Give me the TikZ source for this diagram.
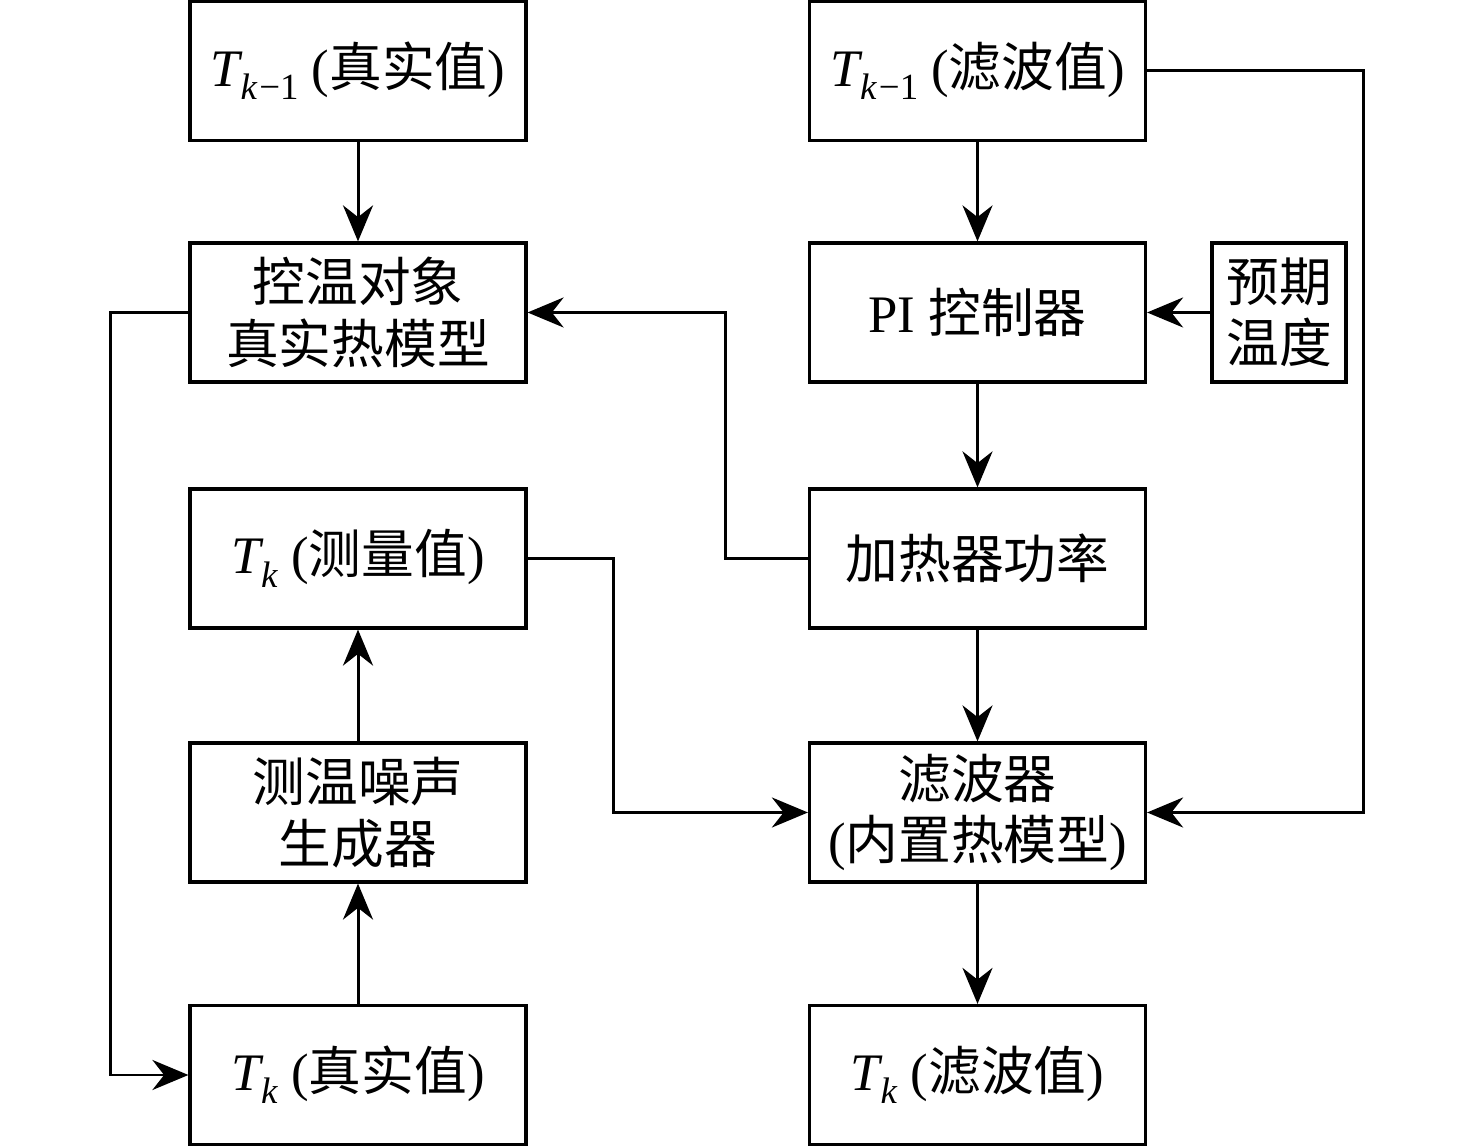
\documentclass[tikz,border=0pt]{standalone}
\usepackage{fontspec}
\setmainfont{Liberation Serif}
\newfontfamily\cjk{Noto Sans CJK SC}
\usepackage{tikz}
\usetikzlibrary{arrows.meta, positioning, calc}

% temperature symbol with lowered subscript
\newcommand{\tsym}[1]{\textit{T}\kern-0.05em\raisebox{-0.55ex}{\fontsize{10.5}{12}\selectfont #1}}

\tikzset{
    blockbox/.style={draw, line width=0.9pt, minimum width=3.36cm, minimum height=1.39cm, align=center, inner sep=0pt, font=\fontsize{15}{17.5}\selectfont},
    flow/.style={line width=0.85pt, -{Stealth[length=3.6mm, width=3mm]}}
}

\begin{document}
\begin{tikzpicture}
    \useasboundingbox (0,0) rectangle (14.76,11.47);

    % Real plant side
    \node[blockbox] (tprevreal) at (3.58,10.76) {\tsym{\textit{k}\kern0.05em−1} ({\cjk 真实值})};
    \node[blockbox] (plant) at (3.58,8.345) {{\cjk 控温对象}\\{\cjk 真实热模型}};
    \node[blockbox] (tkmeas) at (3.58,5.885) {\tsym{\textit{k}} ({\cjk 测量值})};
    \node[blockbox] (noise) at (3.58,3.345) {{\cjk 测温噪声}\\{\cjk 生成器}};
    \node[blockbox] (tkreal) at (3.58,0.72) {\tsym{\textit{k}} ({\cjk 真实值})};

    % Filter side
    \node[blockbox] (tprevfilt) at (9.775,10.76) {\tsym{\textit{k}\kern0.05em−1} ({\cjk 滤波值})};
    \node[blockbox] (pi) at (9.775,8.345) {PI {\cjk 控制器}};
    \node[blockbox] (heater) at (9.775,5.885) {\cjk 加热器功率};
    \node[blockbox] (filter) at (9.775,3.345) {{\cjk 滤波器}\\({\cjk 内置热模型})};
    \node[blockbox] (tkfilt) at (9.775,0.72) {\tsym{\textit{k}} ({\cjk 滤波值})};
    \node[blockbox, minimum width=1.34cm] (expect) at (12.79,8.345) {{\cjk 预期}\\{\cjk 温度}};

    % Connections
    \draw[flow] (tprevreal) -- (plant);
    \draw[flow] (plant.west) -- ++(-0.78,0) |- (tkreal.west);
    \draw[flow] (tkreal) -- (noise);
    \draw[flow] (noise) -- (tkmeas);
    \draw[flow] (tkmeas.east) -- ++(0.86,0) |- (filter.west);
    \draw[flow] (heater.west) -- ++(-0.82,0) |- (plant.east);
    \draw[flow] (tprevfilt) -- (pi);
    \draw[flow] (expect) -- (pi);
    \draw[flow] (pi) -- (heater);
    \draw[flow] (heater) -- (filter);
    \draw[flow] (filter) -- (tkfilt);
    \draw[flow] (tprevfilt.east) -- ++(2.16,0) |- (filter.east);
\end{tikzpicture}
\end{document}
